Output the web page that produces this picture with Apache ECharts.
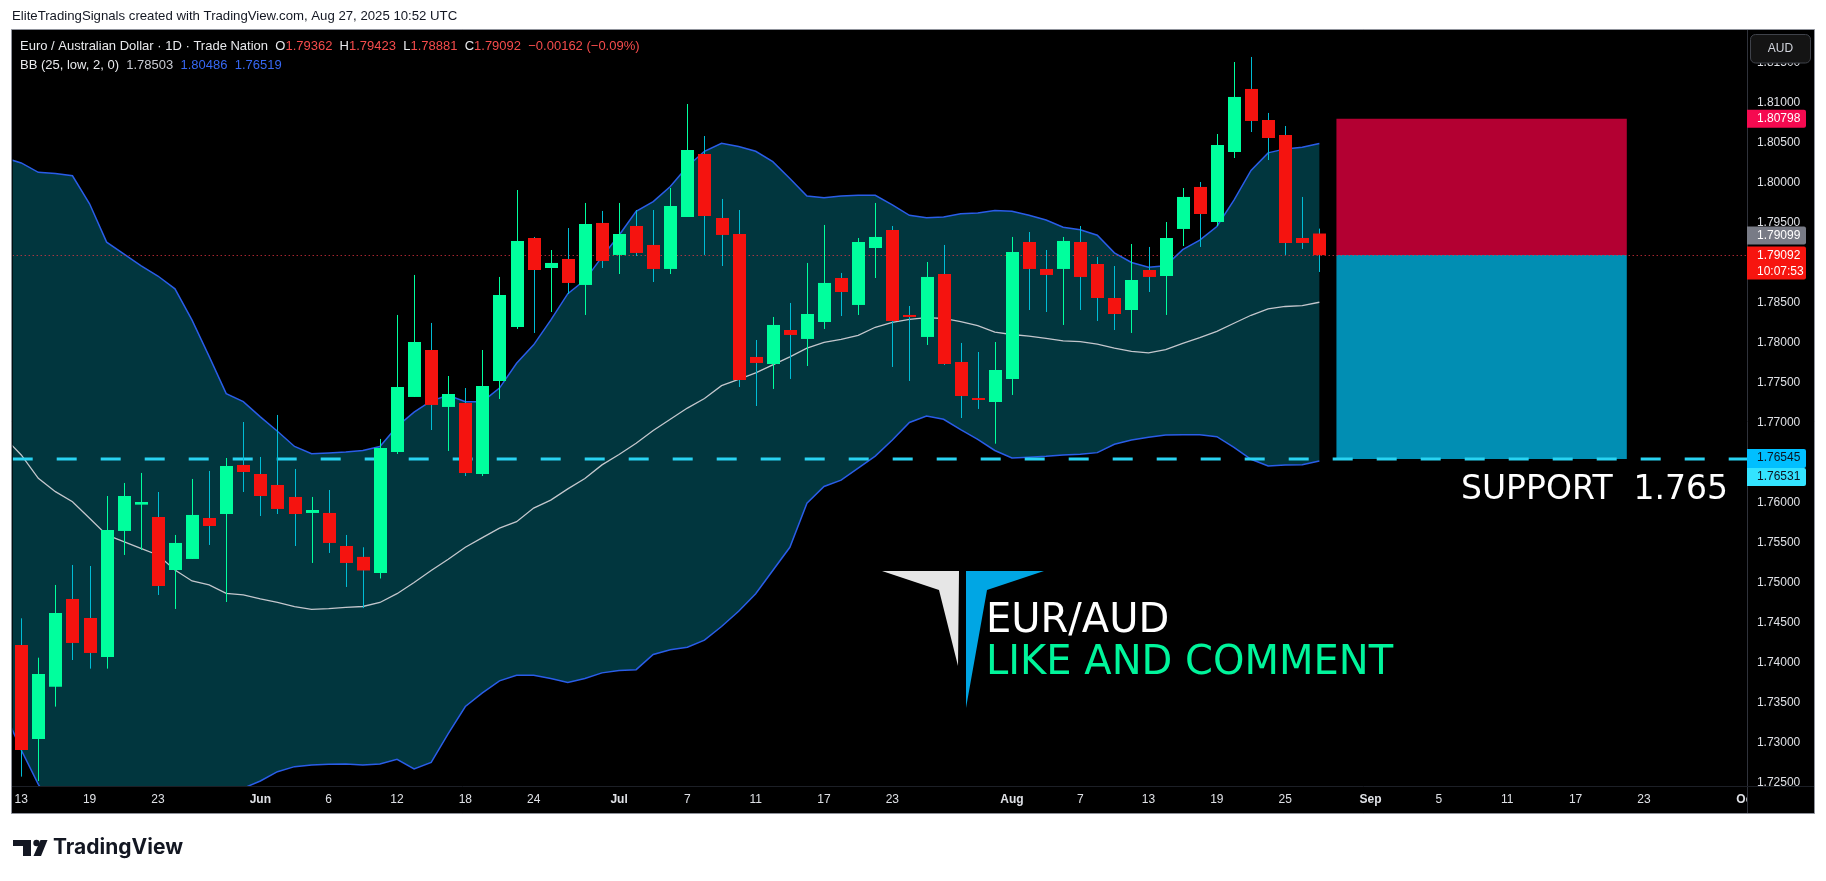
<!DOCTYPE html>
<html><head><meta charset="utf-8">
<script src="https://cdn.jsdelivr.net/npm/echarts@6/dist/echarts.min.js"></script>
<style>html,body{margin:0;padding:0;background:#fff;}#c{width:1826px;height:881px;}</style>
</head><body><div id="c"></div>
<script>
// ---------- DATA ----------
const dates = [
 "05-13","05-14","05-15","05-16","05-19","05-20","05-21","05-22","05-23","05-26","05-27","05-28","05-29","05-30",
 "06-02","06-03","06-04","06-05","06-06","06-09","06-10","06-11","06-12","06-13","06-16","06-17","06-18","06-19","06-20","06-23","06-24","06-25","06-26","06-27","06-30",
 "07-01","07-02","07-03","07-04","07-07","07-08","07-09","07-10","07-11","07-14","07-15","07-16","07-17","07-18","07-21","07-22","07-23","07-24","07-25","07-28","07-29","07-30","07-31",
 "08-01","08-04","08-05","08-06","08-07","08-08","08-11","08-12","08-13","08-14","08-15","08-18","08-19","08-20","08-21","08-22","08-25","08-26","08-27","08-28","08-29",
 "09-01","09-02","09-03","09-04","09-05","09-08","09-09","09-10","09-11","09-12","09-15","09-16","09-17","09-18","09-19","09-22","09-23","09-24","09-25","09-26","09-29","09-30",
 "10-01"];
const tickLabels = {"05-13":"13","05-19":"19","05-23":"23","06-02":"Jun","06-06":"6","06-12":"12","06-18":"18","06-24":"24",
 "07-01":"Jul","07-07":"7","07-11":"11","07-17":"17","07-23":"23","08-01":"Aug","08-07":"7","08-13":"13","08-19":"19","08-25":"25",
 "09-01":"Sep","09-05":"5","09-11":"11","09-17":"17","09-23":"23","10-01":"Oct"};
const monthLabels = ["Jun","Jul","Aug","Sep","Oct"];

const opens = [1.74219,1.73044,1.73698,1.74794,1.74556,1.74069,1.75644,1.75973,1.75819,1.75156,1.75294,1.75806,1.75856,1.76469,1.76356,1.76219,1.76069,1.75869,1.75869,1.75456,
 1.7532,1.7512,1.76631,1.77319,1.77906,1.77194,1.77244,1.76356,1.77519,1.78194,1.79306,1.78931,1.79044,1.78719,1.79494,1.79094,1.79456,1.79219,1.78919,1.79569,
 1.80356,1.79556,1.79356,1.77819,1.77731,1.78156,1.78044,1.78256,1.78806,1.78469,1.79181,1.79406,1.78344,1.78069,1.78856,1.77756,1.77306,1.77256,1.77544,1.79256,
 1.78919,1.78919,1.79256,1.78981,1.78556,1.78406,1.78906,1.78831,1.79419,1.79944,1.79506,1.80381,1.81169,1.80781,1.80594,1.79306,1.79362];
const highs = [1.74552,1.74060,1.74969,1.75219,1.75206,1.76081,1.76244,1.76369,1.76131,1.75594,1.76294,1.76394,1.76556,1.77006,1.76569,1.77094,1.76419,1.76069,1.76156,1.75594,
 1.7544,1.76794,1.78344,1.78844,1.78244,1.77581,1.77431,1.77906,1.78819,1.79906,1.79319,1.79156,1.79431,1.79744,1.79644,1.79744,1.79656,1.79656,1.79931,1.80981,
 1.80581,1.79794,1.79656,1.78031,1.78319,1.78494,1.78994,1.79469,1.78869,1.79306,1.79744,1.79456,1.78456,1.79006,1.79219,1.77994,1.77881,1.78006,1.79319,1.79381,
 1.79156,1.79319,1.79456,1.79069,1.78956,1.79231,1.79194,1.79506,1.79931,1.80006,1.80606,1.81506,1.81569,1.80869,1.80706,1.79819,1.79423];
const lows = [1.72573,1.72519,1.73448,1.74031,1.73923,1.73923,1.75344,1.75406,1.74844,1.74669,1.75294,1.75469,1.74756,1.76131,1.75831,1.75856,1.75456,1.75244,1.75369,1.74944,
 1.7468,1.7505,1.76606,1.77319,1.76906,1.76644,1.76331,1.76331,1.77294,1.78169,1.78119,1.78381,1.78606,1.78344,1.78931,1.78856,1.79081,1.78756,1.78856,1.79569,
 1.79094,1.78956,1.77444,1.77206,1.77419,1.77544,1.77706,1.78169,1.78331,1.78344,1.78806,1.77694,1.77519,1.77969,1.77719,1.77056,1.77169,1.76735,1.77344,1.78406,
 1.78381,1.78219,1.78406,1.78269,1.78156,1.78119,1.78631,1.78344,1.79206,1.79194,1.79456,1.80306,1.80631,1.80281,1.79094,1.79169,1.78881];
const closes = [1.72906,1.73856,1.74619,1.74244,1.74119,1.75656,1.76081,1.76006,1.74956,1.75494,1.75844,1.75706,1.76456,1.76381,1.76081,1.75919,1.75856,1.75906,1.75494,1.75244,
 1.7515,1.76681,1.77444,1.78006,1.77219,1.77356,1.76369,1.77456,1.78594,1.79269,1.78906,1.78994,1.78744,1.79481,1.79019,1.79356,1.79119,1.78919,1.79706,1.80406,
 1.79581,1.79344,1.77531,1.77744,1.78219,1.78094,1.78356,1.78744,1.78631,1.79256,1.79319,1.78269,1.78319,1.78819,1.77731,1.77331,1.77294,1.77656,1.79131,1.78919,
 1.78844,1.79269,1.78819,1.78556,1.78356,1.78781,1.78819,1.79306,1.79819,1.79606,1.80469,1.81069,1.80769,1.80556,1.79244,1.79244,1.79092];

// Bollinger Bands (25, low, 2); *Prev = the day before the first visible candle
const bbUpper = [1.80244,1.80127,1.80112,1.80084,1.79734,1.79254,1.79108,1.78962,1.78831,1.78671,1.78279,1.77827,1.77361,1.7726,1.7707,1.7689,1.767,1.7661,1.7662,1.7663,
 1.7665,1.767,1.7695,1.7713,1.7727,1.7734,1.7726,1.7726,1.7743,1.7774,1.7797,1.7828,1.7861,1.7878,1.7907,1.7934,1.7964,1.7976,1.7995,1.802,
 1.8039,1.8049,1.8045,1.8039,1.8026,1.8005,1.7983,1.7981,1.7983,1.7984,1.7984,1.7972,1.7959,1.7956,1.7957,1.7961,1.7962,1.7965,1.7964,1.7959,
 1.7953,1.7944,1.7941,1.7934,1.7912,1.79,1.7894,1.7896,1.7916,1.7928,1.7945,1.7978,1.8015,1.8037,1.8042,1.8044,1.80486];
const bbMiddle = [1.76594,1.76302,1.76135,1.7601,1.75802,1.75594,1.7551,1.75427,1.75344,1.75156,1.75019,1.74969,1.74864,1.74844,1.74794,1.74752,1.74698,1.74664,1.74673,1.74689,
 1.747,1.7475,1.7486,1.75,1.7515,1.7529,1.7544,1.7556,1.7568,1.7576,1.7593,1.7603,1.7617,1.763,1.7647,1.766,1.7674,1.769,1.7704,1.7718,
 1.773,1.7746,1.7754,1.7762,1.7772,1.7782,1.7793,1.78,1.7804,1.7809,1.7819,1.7825,1.7829,1.7831,1.783,1.7826,1.7821,1.7813,1.781,1.7808,
 1.7805,1.7802,1.7801,1.7798,1.7793,1.7789,1.7787,1.7791,1.7799,1.7806,1.7814,1.7824,1.7834,1.7842,1.7845,1.7846,1.78503];
const bbLower = [1.72906,1.72477,1.72158,1.71936,1.7187,1.71934,1.71912,1.71892,1.71857,1.71641,1.71759,1.72111,1.72367,1.72428,1.72519,1.72635,1.72698,1.72719,1.72727,1.72731,
 1.7272,1.7273,1.7279,1.7267,1.7275,1.7311,1.7345,1.7362,1.7377,1.7384,1.7384,1.738,1.7375,1.738,1.7387,1.739,1.7391,1.741,1.7416,1.7419,
 1.7428,1.7445,1.7464,1.7486,1.7515,1.7544,1.7599,1.762,1.7628,1.7643,1.7658,1.7678,1.77,1.7708,1.7704,1.7691,1.7679,1.7665,1.76556,1.76565,
 1.76577,1.76594,1.76602,1.76623,1.76727,1.76781,1.76815,1.76844,1.76848,1.76848,1.76823,1.7669,1.7654,1.76456,1.76469,1.76473,1.76519];
const bbUpperPrev = 1.8031, bbMiddlePrev = 1.76814, bbLowerPrev = 1.73389;

const priceTicks = [1.725,1.73,1.735,1.74,1.745,1.75,1.755,1.76,1.765,1.77,1.775,1.78,1.785,1.79,1.795,1.80,1.805,1.81,1.815];
const priceMin = 1.72456, priceMax = 1.81906;

const supportLevel = 1.76545, supportLevel2 = 1.76531;
const lastPrice = 1.79092, prevPrice = 1.79099;
const positionStop = 1.80798, positionEntry = 1.79092, positionTarget = 1.76545;
const positionFrom = "08-28", positionTo = "09-22";

// ---------- STYLE ----------
const GREEN = '#00ff9d', RED = '#f5130f', WICK = '#00bcd4';
const BAND_FILL = '#01363e', BAND_LINE = '#2a5de8', MID_LINE = '#c3c6cc';
const UI = '"Liberation Sans", Arial, sans-serif';
const AXIS_TXT = '#dfe1e6';

const candleData = opens.map((o, i) => [i, o, closes[i], lows[i], highs[i]]);

function renderBand(params, api) {
  const cs = params.coordSys;
  const pt = (arr) => arr.map((v, i) => api.coord([i, v]));
  const withPrev = (arr, prev) => {
    const p = pt(arr);
    const step = p[1][0] - p[0][0];
    const y = api.coord([0, prev])[1];
    return [[p[0][0] - step, y]].concat(p);
  };
  const up = withPrev(bbUpper, bbUpperPrev);
  const mid = withPrev(bbMiddle, bbMiddlePrev);
  const lo = withPrev(bbLower, bbLowerPrev);
  const poly = up.concat(lo.slice().reverse());
  return {
    type: 'group',
    clipPath: {type: 'rect', shape: {x: cs.x, y: cs.y, width: cs.width, height: cs.height}},
    children: [
      {type: 'polygon', shape: {points: poly}, style: {fill: BAND_FILL}},
      {type: 'polyline', shape: {points: mid}, style: {stroke: MID_LINE, lineWidth: 1.3, fill: null}},
      {type: 'polyline', shape: {points: up}, style: {stroke: BAND_LINE, lineWidth: 1.5, fill: null}},
      {type: 'polyline', shape: {points: lo}, style: {stroke: BAND_LINE, lineWidth: 1.5, fill: null}}
    ]
  };
}

function renderLevels(params, api) {
  const cs = params.coordSys;
  const i0 = dates.indexOf(positionFrom), i1 = dates.indexOf(positionTo);
  const a = api.coord([i0, positionStop]), b = api.coord([i1, positionEntry]), c = api.coord([i1, positionTarget]);
  const ySup = api.coord([0, supportLevel])[1];
  const yLast = Math.round(api.coord([0, lastPrice])[1]) + 0.5;
  return {
    type: 'group',
    clipPath: {type: 'rect', shape: {x: cs.x, y: cs.y, width: cs.width, height: cs.height}},
    children: [
      {type: 'rect', shape: {x: a[0], y: a[1], width: b[0] - a[0], height: b[1] - a[1]}, style: {fill: '#b30032'}},
      {type: 'rect', shape: {x: a[0], y: b[1], width: b[0] - a[0], height: c[1] - b[1]}, style: {fill: '#018eb3'}},
      {type: 'line', shape: {x1: cs.x, y1: ySup, x2: cs.x + cs.width, y2: ySup},
        style: {stroke: '#29d3f2', lineWidth: 3, lineDash: [20, 24]}},
      {type: 'line', shape: {x1: cs.x, y1: yLast, x2: cs.x + cs.width, y2: yLast},
        style: {stroke: '#f23645', lineWidth: 1, lineDash: [1, 3]}}
    ]
  };
}

function renderCandle(params, api) {
  const i = api.value(0), o = api.value(1), c = api.value(2), l = api.value(3), h = api.value(4);
  const pO = api.coord([i, o]), pC = api.coord([i, c]), pL = api.coord([i, l]), pH = api.coord([i, h]);
  const w = Math.round(api.size([1, 0])[0] * 0.76);
  const up = c >= o;
  const x = Math.round(pO[0]);
  const top = Math.min(pO[1], pC[1]), bot = Math.max(pO[1], pC[1]);
  return {
    type: 'group',
    children: [
      {type: 'line', shape: {x1: x + 0.5, y1: pH[1], x2: x + 0.5, y2: pL[1]}, style: {stroke: up ? GREEN : WICK, lineWidth: 1}},
      {type: 'rect', shape: {x: x + 0.5 - w / 2, y: top, width: w, height: Math.max(bot - top, 2)}, style: {fill: up ? GREEN : RED}}
    ]
  };
}

const chart = echarts.init(document.getElementById('c'), null, {renderer: 'canvas'});
chart.setOption({
  backgroundColor: '#ffffff',
  animation: false,
  grid: {left: 12.7, top: 30, width: 1742.2, height: 756, containLabel: false},
  xAxis: {
    type: 'category', data: dates, boundaryGap: true, z: 40,
    axisLine: {show: false}, axisTick: {show: false}, splitLine: {show: false},
    axisLabel: {
      interval: (idx, v) => v in tickLabels,
      formatter: (v) => { const t = tickLabels[v] || ''; return monthLabels.includes(t) ? '{m|' + t + '}' : t; },
      color: AXIS_TXT, fontSize: 12, fontFamily: UI, margin: 8,
      rich: {m: {fontWeight: 'bold', color: AXIS_TXT, fontSize: 12, fontFamily: UI}}
    }
  },
  yAxis: {
    type: 'value', position: 'right', min: priceMin, max: priceMax, z: 60,
    axisLine: {show: false}, axisTick: {show: false}, splitLine: {show: false},
    axisLabel: {customValues: priceTicks, formatter: (v) => v.toFixed(5), color: AXIS_TXT, fontSize: 12, fontFamily: UI, margin: 2}
  },
  series: [
    {type: 'custom', name: 'BB', z: 1, clip: true, data: [[0, priceMin]], encode: {x: 0, y: 1}, renderItem: renderBand, silent: true},
    {type: 'custom', name: 'levels', z: 2, clip: true, data: [[0, priceMin]], encode: {x: 0, y: 1}, renderItem: renderLevels, silent: true},
    {type: 'custom', name: 'EURAUD', z: 3, data: candleData, encode: {x: 0, y: [1, 2, 3, 4]}, renderItem: renderCandle}
  ]
});

const py = (v) => chart.convertToPixel({yAxisIndex: 0}, v);
const yStop = py(positionStop), yLast = py(lastPrice), ySup = py(supportLevel);

function badge(y, h, fill, lines, txtColor) {
  const els = [{type: 'rect', z: 80, shape: {x: 1747, y: y, width: 59, height: h, r: [0, 2, 2, 0]}, style: {fill: fill}}];
  lines.forEach((t, k) => els.push({type: 'text', z: 81, x: 1757, y: y + 9 + k * 16,
    style: {text: t, fill: txtColor, font: '12px ' + UI, verticalAlign: 'middle'}}));
  return els;
}

const g = [
  // page title
  {type: 'text', z: 10, x: 12, y: 16, style: {text: 'EliteTradingSignals created with TradingView.com, Aug 27, 2025 10:52 UTC', fill: '#131722', font: '13.2px ' + UI, verticalAlign: 'middle'}},
  // chart frame
  {type: 'rect', z: 0, shape: {x: 11.5, y: 29.5, width: 1803, height: 784}, style: {fill: '#000', stroke: '#8f929b', lineWidth: 1}},
  // price scale panel + separators
  {type: 'rect', z: 50, shape: {x: 1747.5, y: 30, width: 66.5, height: 783}, style: {fill: '#000'}},
  {type: 'line', z: 51, shape: {x1: 1747.5, y1: 30, x2: 1747.5, y2: 813}, style: {stroke: '#2f323b', lineWidth: 1}},
  {type: 'line', z: 51, shape: {x1: 12, y1: 786.5, x2: 1814, y2: 786.5}, style: {stroke: '#1c1f26', lineWidth: 1}},
  // AUD button
  {type: 'rect', z: 95, shape: {x: 1750.5, y: 34.5, width: 60, height: 28.5, r: 5}, style: {fill: '#141414', stroke: '#3f424a', lineWidth: 1}},
  {type: 'text', z: 96, x: 1780.5, y: 48.5, style: {text: 'AUD', fill: '#d1d4dc', font: '12px ' + UI, align: 'center', verticalAlign: 'middle'}},
  // legend
  {type: 'text', z: 70, x: 20, y: 46, style: {
    text: '{w|Euro / Australian Dollar · 1D · Trade Nation}  {w|O}{r|1.79362}  {w|H}{r|1.79423}  {w|L}{r|1.78881}  {w|C}{r|1.79092}  {r|−0.00162 (−0.09%)}',
    verticalAlign: 'middle', font: '13px ' + UI,
    rich: {w: {fill: '#e8e9ec', font: '13px ' + UI}, r: {fill: '#f64c4c', font: '13px ' + UI}}}},
  {type: 'text', z: 70, x: 20, y: 65, style: {
    text: '{w|BB (25, low, 2, 0)}  {g|1.78503}  {b|1.80486}  {b|1.76519}',
    verticalAlign: 'middle', font: '13px ' + UI,
    rich: {w: {fill: '#e8e9ec', font: '13px ' + UI}, g: {fill: '#c9ccd3', font: '13px ' + UI}, b: {fill: '#3667f2', font: '13px ' + UI}}}},
  // SUPPORT label
  {type: 'text', z: 20, x: 1461, y: 507, style: {text: 'SUPPORT  1.765', fill: '#ffffff', font: '33px "DejaVu Sans"', verticalAlign: 'bottom'}},
  // logo
  {type: 'polygon', z: 20, shape: {points: [[882, 571], [959, 571], [958, 666], [939, 590]]}, style: {fill: '#e6e6e6'}},
  {type: 'polygon', z: 20, shape: {points: [[966, 571], [1044, 571], [987, 590], [966, 708]]}, style: {fill: '#00a6e4'}},
  {type: 'text', z: 20, x: 986, y: 642, style: {text: 'EUR/AUD', fill: '#ffffff', font: '40px "DejaVu Sans"', verticalAlign: 'bottom'}},
  {type: 'text', z: 20, x: 986, y: 684, style: {text: 'LIKE AND COMMENT', fill: '#00f59b', font: '40px "DejaVu Sans"', verticalAlign: 'bottom'}},
  // TradingView footer
  {type: 'rect', z: 10, shape: {x: 13, y: 840, width: 18, height: 6}, style: {fill: '#131722'}},
  {type: 'rect', z: 10, shape: {x: 23, y: 840, width: 8, height: 16}, style: {fill: '#131722'}},
  {type: 'circle', z: 10, shape: {cx: 36.5, cy: 843, r: 3.2}, style: {fill: '#131722'}},
  {type: 'polygon', z: 10, shape: {points: [[40.5, 840], [47.5, 840], [41, 856], [33.5, 856]]}, style: {fill: '#131722'}},
  {type: 'text', z: 10, x: 53, y: 848, style: {text: 'TradingView', fill: '#131722', font: 'bold 21px Inter, "Liberation Sans", sans-serif', verticalAlign: 'middle'}}
]
  .concat(badge(yStop - 9, 18, '#f50a50', ['1.80798'], '#ffffff'))
  .concat(badge(yLast - 28.5, 18, '#787b86', ['1.79099'], '#ffffff'))
  .concat(badge(yLast - 8.5, 33, '#f7150f', ['1.79092', '10:07:53'], '#ffffff'))
  .concat(badge(ySup - 10, 19, '#00bfff', ['1.76545'], '#0b1420'))
  .concat(badge(ySup + 9, 18, '#33e3ff', ['1.76531'], '#0b1420'));

chart.setOption({graphic: g});
</script>
</body></html>
